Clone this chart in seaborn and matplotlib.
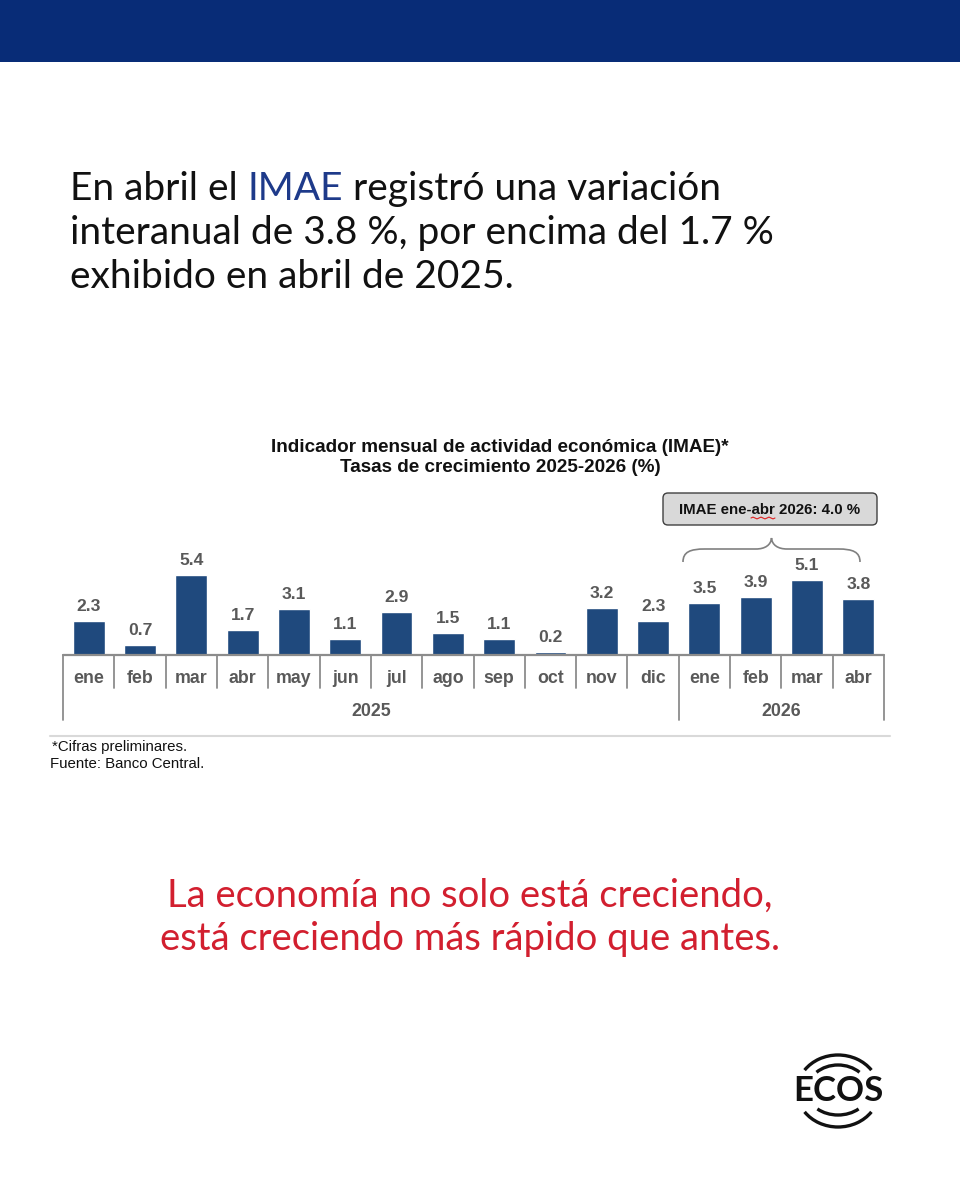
import numpy as np
import pandas as pd
import seaborn as sns
import matplotlib
matplotlib.use("Agg")
import matplotlib.pyplot as plt
from matplotlib.patches import Rectangle, FancyBboxPatch, Arc, PathPatch
from matplotlib.path import Path

# ------------------------------------------------------------------------------
# data
# ------------------------------------------------------------------------------

MONTHS = ["ene", "feb", "mar", "abr", "may", "jun", "jul", "ago", "sep", "oct",
          "nov", "dic", "ene", "feb", "mar", "abr"]
YEARS = ["2025"] * 12 + ["2026"] * 4
VALUES = [2.3, 0.7, 5.4, 1.7, 3.1, 1.1, 2.9, 1.5, 1.1, 0.2, 3.2, 2.3,
          3.5, 3.9, 5.1, 3.8]

HEADLINE = [
    [("En abril el ", "k"), ("IMAE", "navy"), (" registró una variación", "k")],
    [("interanual de 3.8 %, por encima del 1.7 %", "k")],
    [("exhibido en abril de 2025.", "k")],
]
TITLE = ["Indicador mensual de actividad económica (IMAE)*",
         "Tasas de crecimiento 2025-2026 (%)"]
YTD_LABEL = "IMAE ene-abr 2026: 4.0 %"
NOTES = ["*Cifras preliminares.", "Fuente: Banco Central."]
CLAIM = ["La economía no solo está creciendo,",
         "está creciendo más rápido que antes."]

# ------------------------------------------------------------------------------
# style
# ------------------------------------------------------------------------------

W, H = 960, 1200
HEADER = "#082C77"
IMAE_BLUE = "#1E3A8A"
BAR = "#1F497D"
LABEL = "#595959"
AXIS = "#8C8C8C"
RED = "#D21F2F"
INK = "#111111"
COLORS = {"k": INK, "navy": IMAE_BLUE}

sns.set_theme(style="white")
plt.rcParams["font.family"] = ["Liberation Sans", "DejaVu Sans"]


def Y(y):
    # screen pixel (from top) -> background data coords
    return H - y


fig = plt.figure(figsize=(W / 100, H / 100), dpi=100)
fig.patch.set_facecolor("white")

bg = fig.add_axes([0, 0, 1, 1])
bg.set_xlim(0, W)
bg.set_ylim(0, H)
bg.axis("off")

renderer = fig.canvas.get_renderer()

# header band
bg.add_patch(Rectangle((0, Y(62)), W, 62, color=HEADER, lw=0))


def text_runs(x, y, runs, **kw):
    t1 = bg.text(0, 0, "x x", **kw)
    t2 = bg.text(0, 0, "xx", **kw)
    sp = t1.get_window_extent(renderer).width - t2.get_window_extent(renderer).width
    t1.remove()
    t2.remove()
    for s, c in runs:
        lead = len(s) - len(s.lstrip())
        trail = len(s) - len(s.rstrip())
        x += lead * sp
        t = bg.text(x, Y(y), s.strip(), color=COLORS[c], ha="left",
                    va="baseline", **kw)
        x += t.get_window_extent(renderer).width + trail * sp


head_kw = dict(family=["Lato", "DejaVu Sans"], fontsize=28)
for i, runs in enumerate(HEADLINE):
    text_runs(70, 200 + i * 44, runs, **head_kw)

# chart title
for i, line in enumerate(TITLE):
    bg.text(500, Y(447 + i * 21), line, ha="center", va="center",
            fontsize=13.6, fontweight="bold", color=INK)

# year-to-date box + brace
bg.add_patch(FancyBboxPatch((663, Y(525)), 214, 32,
                            boxstyle="round,pad=0,rounding_size=5",
                            fc="#D9D9D9", ec="#404040", lw=1))
bg.text(770, Y(510), YTD_LABEL, ha="center", va="center", fontsize=10.8,
        fontweight="bold", color=INK)
# spell-check squiggle under "abr"
wx = np.linspace(751, 775, 13)
wy = Y(518) + np.tile([0, 1, 0, -1], 4)[:13] * 0.9
bg.plot(wx, wy, color="#E02020", lw=0.8)

brace = [
    (683, 562), (683, 552), (690, 549), (705, 549),
    (756, 549),
    (765, 549), (771, 545), (771.5, 538),
    (772, 545), (778, 549), (787, 549),
    (838, 549),
    (853, 549), (860, 552), (860, 562),
]
codes = [Path.MOVETO, Path.CURVE4, Path.CURVE4, Path.CURVE4, Path.LINETO,
         Path.CURVE4, Path.CURVE4, Path.CURVE4, Path.CURVE4, Path.CURVE4,
         Path.CURVE4, Path.LINETO, Path.CURVE4, Path.CURVE4, Path.CURVE4]
bg.add_patch(PathPatch(Path([(x, Y(y)) for x, y in brace], codes),
                       fc="none", ec="#808080", lw=1.2))

# footer rule + notes
bg.plot([50, 890], [Y(736), Y(736)], color="#D9D9D9", lw=1.5)
bg.text(52, Y(751), NOTES[0], ha="left", va="baseline", fontsize=10.8, color=INK)
bg.text(50, Y(768), NOTES[1], ha="left", va="baseline", fontsize=10.8, color=INK)

# closing claim
for i, line in enumerate(CLAIM):
    bg.text(470, Y(907 + i * 43), line, ha="center", va="baseline",
            color=RED, family=["Lato", "DejaVu Sans"], fontsize=27.5)

# ECOS logo
cx, cy = 838, Y(1091)
bg.text(cx, cy, "ECOS", ha="center", va="center", fontsize=25,
        fontweight="bold", family=["Lato", "DejaVu Sans"], color="#111111")
for w_, h_, t1, t2 in [(82, 72, 32, 148), (62, 52, 41, 139),
                       (82, 72, 212, 328), (62, 48, 221, 319)]:
    bg.add_patch(Arc((cx, cy), w_, h_, theta1=t1, theta2=t2,
                     color="#111111", lw=2.4))

# ------------------------------------------------------------------------------
# bar chart
# ------------------------------------------------------------------------------

df = pd.DataFrame({"pos": np.arange(len(VALUES)), "Mes": MONTHS,
                   "Año": YEARS, "Tasa": VALUES})

PX_PER_UNIT = 14.8
BASE = 655
TOP, BOTTOM = 520, 720
ax = fig.add_axes([63 / W, Y(BOTTOM) / H, 821 / W, (BOTTOM - TOP) / H])
ax.patch.set_alpha(0)

sns.barplot(data=df, x="pos", y="Tasa", color=BAR, saturation=1, width=0.62,
            errorbar=None, ax=ax)
ax.set_xlim(-0.5, len(VALUES) - 0.5)
ylo = -(BOTTOM - BASE) / PX_PER_UNIT
ax.set_ylim(ylo, (BASE - TOP) / PX_PER_UNIT)
ax.set_axis_off()

ax.bar_label(ax.containers[0], labels=[f"{v:.1f}" for v in VALUES],
             padding=5, fontsize=12.6, fontweight="bold", color=LABEL)

ax.plot([-0.5, len(VALUES) - 0.5], [0, 0], color=AXIS, lw=1.6,
        clip_on=False, zorder=3)

bounds = [0] + [i for i in range(1, len(YEARS)) if YEARS[i] != YEARS[i - 1]] + [len(YEARS)]
for k in range(len(VALUES) + 1):
    yb = ylo if k in bounds else -2.2
    ax.plot([k - 0.5, k - 0.5], [0, yb], color=AXIS, lw=1.3, clip_on=False)

for i, m in enumerate(MONTHS):
    ax.text(i, -1.91, m, ha="center", va="baseline", fontsize=12.8,
            fontweight="bold", color=LABEL, clip_on=False)

for a, b in zip(bounds[:-1], bounds[1:]):
    ax.text((a + b - 1) / 2, -(716 - BASE) / PX_PER_UNIT, YEARS[a],
            ha="center", va="baseline", fontsize=12.8, fontweight="bold",
            color=LABEL, clip_on=False)

fig.savefig("out.png", dpi=100)
